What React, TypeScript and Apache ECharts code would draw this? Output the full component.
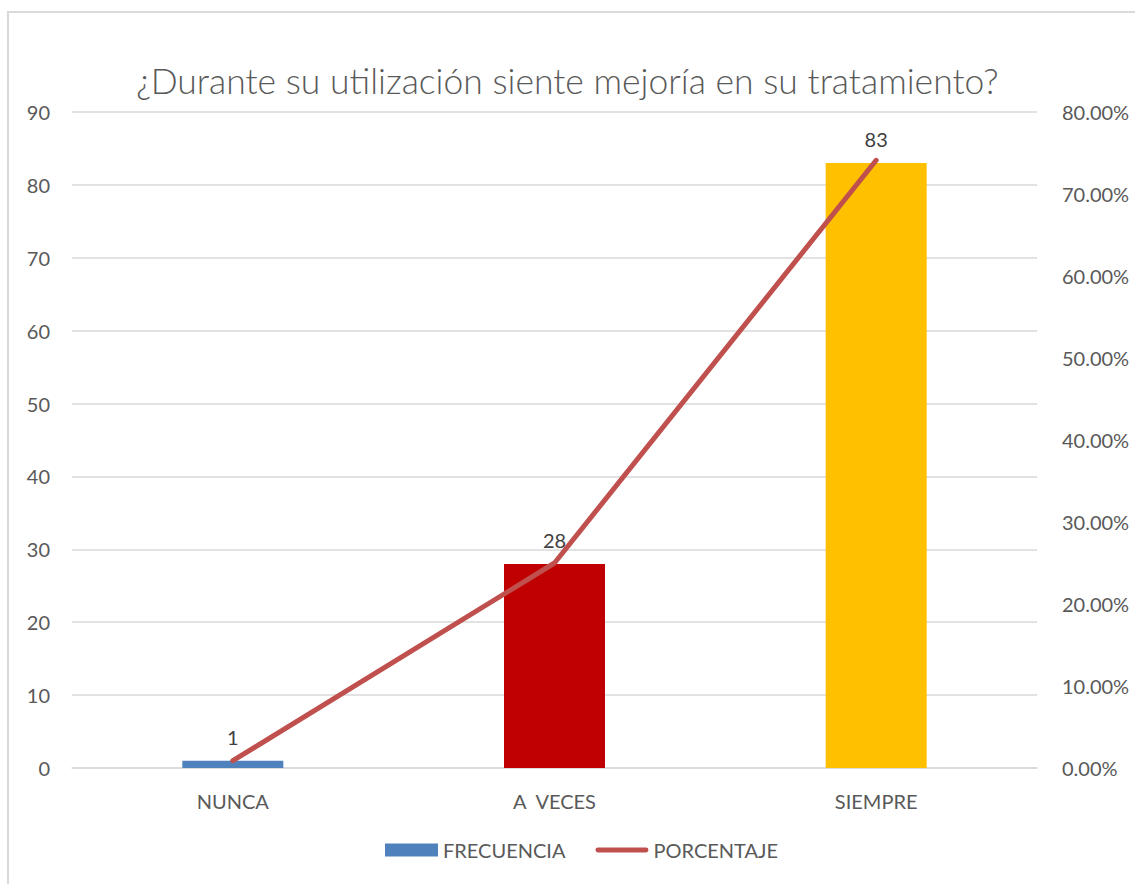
import React, { useEffect, useRef } from "react";
import * as echarts from "echarts";

const categories = ["NUNCA", "A  VECES", "SIEMPRE"];
const frecuencia = [1, 28, 83];
const porcentaje = [0.0089, 0.25, 0.7411];
const barColors = ["#4F81BD", "#C00000", "#FFC000"];
const titleText = "¿Durante su utilización siente mejoría en su tratamiento?";

const FONT = "Lato, 'Open Sans', sans-serif";
const TXT = "#595959";
const LINE_ICON =
  "path://M2.5,0 L51.5,0 A2.5,2.5 0 0 1 51.5,5 L2.5,5 A2.5,2.5 0 0 1 2.5,0 Z";

export default function App() {
  const ref = useRef<HTMLDivElement>(null);
  useEffect(() => {
    if (!ref.current) return;
    const chart = echarts.init(ref.current, undefined, { renderer: "svg" });
    chart.setOption({
      animation: false,
      backgroundColor: "#ffffff",
      textStyle: { fontFamily: FONT },
      title: {
        text: titleText,
        left: "center",
        top: 57,
        textStyle: { fontFamily: FONT, fontSize: 35.5, fontWeight: 300, color: TXT },
      },
      graphic: [
        {
          type: "rect",
          shape: { x: 8, y: 12, width: 1140, height: 900 },
          style: { fill: "none", stroke: "#D9D9D9", lineWidth: 2 },
          silent: true,
        },
      ],
      legend: {
        bottom: 19,
        left: 380,
        itemGap: 30,
        itemWidth: 53,
        itemHeight: 13,
        textStyle: { fontFamily: FONT, fontSize: 20, color: TXT },
        data: [
          { name: "FRECUENCIA", icon: "rect", itemStyle: { color: "#4F81BD" } },
          { name: "PORCENTAJE", icon: LINE_ICON, itemStyle: { color: "#C0504D" } },
        ],
      },
      grid: { left: 72, right: 98, top: 112, bottom: 116 },
      xAxis: {
        type: "category",
        data: categories,
        axisLine: { show: true, lineStyle: { color: "#D9D9D9", width: 1.5 } },
        axisTick: { show: false },
        axisLabel: { fontFamily: FONT, fontSize: 20, color: TXT, margin: 23 },
      },
      yAxis: [
        {
          type: "value",
          min: 0,
          max: 90,
          interval: 10,
          axisLine: { show: false },
          axisTick: { show: false },
          splitLine: { lineStyle: { color: "#D9D9D9", width: 1.5 } },
          axisLabel: { fontFamily: FONT, fontSize: 20, color: TXT, margin: 22 },
        },
        {
          type: "value",
          min: 0,
          max: 0.8,
          interval: 0.1,
          axisLine: { show: false },
          axisTick: { show: false },
          splitLine: { show: false },
          axisLabel: {
            fontFamily: FONT,
            fontSize: 20,
            color: TXT,
            margin: 25,
            formatter: (v: number) => (v * 100).toFixed(2) + "%",
          },
        },
      ],
      series: [
        {
          name: "FRECUENCIA",
          type: "bar",
          yAxisIndex: 0,
          barWidth: 101,
          data: frecuencia.map((v, i) => ({ value: v, itemStyle: { color: barColors[i] } })),
          itemStyle: { color: "#4F81BD" },
          label: {
            show: true,
            position: "top",
            distance: 14,
            fontFamily: FONT,
            fontSize: 20,
            color: "#404040",
          },
          z: 2,
        },
        {
          name: "PORCENTAJE",
          type: "line",
          yAxisIndex: 1,
          data: porcentaje,
          symbol: "none",
          lineStyle: { color: "#C0504D", width: 5, cap: "round", join: "round" },
          itemStyle: { color: "#C0504D" },
          z: 5,
        },
      ],
    });
    return () => chart.dispose();
  }, []);
  return (
    <div
      ref={ref}
      style={{ position: "fixed", left: 0, top: 0, width: 1135, height: 884 }}
    />
  );
}
